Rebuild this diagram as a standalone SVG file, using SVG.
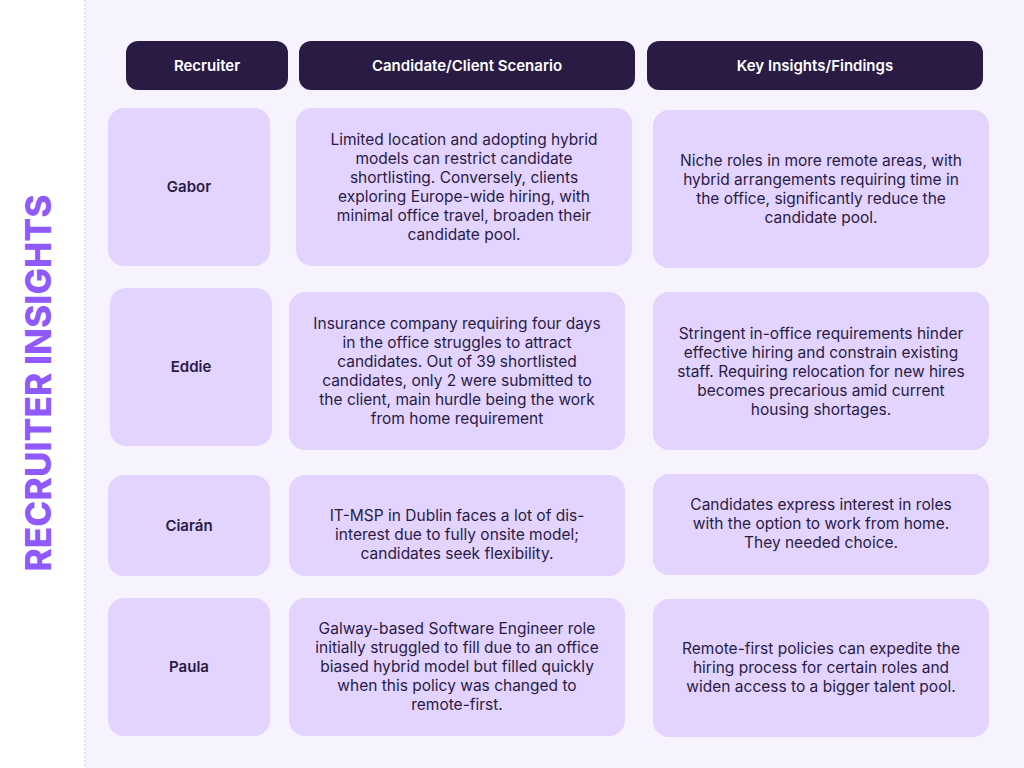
<svg xmlns="http://www.w3.org/2000/svg" width="1024" height="768" viewBox="0 0 1024 768">
<style>
.h{fill:#2a1b45}
.c{fill:#e2d4fe}
.ht{font-family:Inter,"Liberation Sans",sans-serif;font-size:15px;font-weight:600;fill:#fff;text-anchor:middle}
.n{font-family:Inter,"Liberation Sans",sans-serif;font-size:15px;font-weight:600;fill:#2a1b45;text-anchor:middle}
.t{font-family:Inter,"Liberation Sans",sans-serif;font-size:15.5px;fill:#2a1b45;text-anchor:middle}
</style>
<rect width="1024" height="768" fill="#fff"/>
<rect x="85" y="0" width="939" height="768" fill="#f6f2fe"/>
<line x1="85" y1="0" x2="85" y2="768" stroke="#d6c8f8" stroke-dasharray="2 2"/>
<text transform="translate(51,383) rotate(-90)" font-family="Inter,'Liberation Sans',sans-serif" font-size="35" font-weight="800" fill="#8f59fc" text-anchor="middle" textLength="377" lengthAdjust="spacingAndGlyphs">RECRUITER INSIGHTS</text>
<g id="hdr1"><rect class="h" x="126" y="41" width="162" height="49" rx="12"/><text class="ht" x="207" y="71">Recruiter</text></g>
<g id="hdr2"><rect class="h" x="299" y="41" width="336" height="49" rx="12"/><text class="ht" x="467" y="71">Candidate/Client Scenario</text></g>
<g id="hdr3"><rect class="h" x="647" y="41" width="336" height="49" rx="12"/><text class="ht" x="815" y="71">Key Insights/Findings</text></g>
<g id="r1a"><rect class="c" x="108" y="108" width="162" height="158" rx="16"/><text class="n" x="189" y="192">Gabor</text></g>
<g id="r1b"><rect class="c" x="296" y="108" width="336" height="158" rx="16"/><text class="t" x="464" y="145"><tspan x="464">Limited location and adopting hybrid</tspan><tspan x="464" dy="19">models can restrict candidate</tspan><tspan x="464" dy="19">shortlisting. Conversely, clients</tspan><tspan x="464" dy="19">exploring Europe-wide hiring, with</tspan><tspan x="464" dy="19">minimal office travel, broaden their</tspan><tspan x="464" dy="19">candidate pool.</tspan></text></g>
<g id="r1c"><rect class="c" x="653" y="110" width="336" height="158" rx="16"/><text class="t" x="821" y="166"><tspan x="821">Niche roles in more remote areas, with</tspan><tspan x="821" dy="19">hybrid arrangements requiring time in</tspan><tspan x="821" dy="19">the office, significantly reduce the</tspan><tspan x="821" dy="19">candidate pool.</tspan></text></g>
<g id="r2a"><rect class="c" x="110" y="288" width="162" height="158" rx="16"/><text class="n" x="191" y="372">Eddie</text></g>
<g id="r2b"><rect class="c" x="289" y="292" width="336" height="158" rx="16"/><text class="t" x="457" y="329"><tspan x="457">Insurance company requiring four days</tspan><tspan x="457" dy="19">in the office struggles to attract</tspan><tspan x="457" dy="19">candidates. Out of 39 shortlisted</tspan><tspan x="457" dy="19">candidates, only 2 were submitted to</tspan><tspan x="457" dy="19">the client, main hurdle being the work</tspan><tspan x="457" dy="19">from home requirement</tspan></text></g>
<g id="r2c"><rect class="c" x="653" y="292" width="336" height="158" rx="16"/><text class="t" x="821" y="339"><tspan x="821">Stringent in-office requirements hinder</tspan><tspan x="821" dy="19">effective hiring and constrain existing</tspan><tspan x="821" dy="19">staff. Requiring relocation for new hires</tspan><tspan x="821" dy="19">becomes precarious amid current</tspan><tspan x="821" dy="19">housing shortages.</tspan></text></g>
<g id="r3a"><rect class="c" x="108" y="475" width="162" height="101" rx="16"/><text class="n" x="189" y="531">Ciarán</text></g>
<g id="r3b"><rect class="c" x="289" y="475" width="336" height="101" rx="16"/><text class="t" x="457" y="521"><tspan x="457">IT-MSP in Dublin faces a lot of dis-</tspan><tspan x="457" dy="19">interest due to fully onsite model;</tspan><tspan x="457" dy="19">candidates seek flexibility.</tspan></text></g>
<g id="r3c"><rect class="c" x="653" y="474" width="336" height="101" rx="16"/><text class="t" x="821" y="510"><tspan x="821">Candidates express interest in roles</tspan><tspan x="821" dy="19">with the option to work from home.</tspan><tspan x="821" dy="19">They needed choice.</tspan></text></g>
<g id="r4a"><rect class="c" x="108" y="598" width="162" height="138" rx="16"/><text class="n" x="189" y="672">Paula</text></g>
<g id="r4b"><rect class="c" x="289" y="598" width="336" height="138" rx="16"/><text class="t" x="457" y="634"><tspan x="457">Galway-based Software Engineer role</tspan><tspan x="457" dy="19">initially struggled to fill due to an office</tspan><tspan x="457" dy="19">biased hybrid model but filled quickly</tspan><tspan x="457" dy="19">when this policy was changed to</tspan><tspan x="457" dy="19">remote-first.</tspan></text></g>
<g id="r4c"><rect class="c" x="653" y="599" width="336" height="138" rx="16"/><text class="t" x="821" y="654"><tspan x="821">Remote-first policies can expedite the</tspan><tspan x="821" dy="19">hiring process for certain roles and</tspan><tspan x="821" dy="19">widen access to a bigger talent pool.</tspan></text></g>
<g id="connectors"/>
</svg>
